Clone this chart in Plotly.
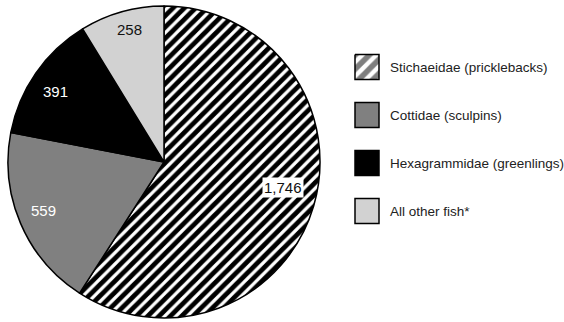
import math
import plotly.graph_objects as go

# Fish counts by family
families = [
    "Stichaeidae (pricklebacks)",
    "Cottidae (sculpins)",
    "Hexagrammidae (greenlings)",
    "All other fish*",
]
counts = [1746, 559, 391, 258]

FONT = "Liberation Sans, Arial, sans-serif"
W, H = 564, 322

# Pie geometry in pixels
CX, CY, R = 164, 162, 156

fills = ["white", "#808080", "#000000", "#d2d2d2"]
label_colors = ["#111111", "white", "white", "#111111"]

fig = go.Figure()

fig.add_trace(go.Pie(
    labels=families,
    values=counts,
    sort=False,
    direction="clockwise",
    rotation=0,
    textinfo="none",
    hoverinfo="label+value",
    showlegend=False,
    marker=dict(
        colors=fills,
        line=dict(color="black", width=1.5),
        pattern=dict(
            shape=["/", "", "", ""],
            fgcolor="black",
            bgcolor=fills,
            size=8,
            solidity=0.6,
        ),
    ),
    domain=dict(x=[(CX - R) / W, (CX + R) / W],
                y=[(H - CY - R) / H, (H - CY + R) / H]),
))

# Pixel-space overlay axes for the key swatches
fig.update_layout(
    xaxis=dict(range=[0, W], visible=False, fixedrange=True, domain=[0, 1]),
    yaxis=dict(range=[H, 0], visible=False, fixedrange=True, domain=[0, 1]),
)

row_y = [67, 115, 163, 211]
sx0, sx1, half = 355, 379, 12.5

for i, (name, col) in enumerate(zip(families, fills)):
    y0, y1 = row_y[i] - half, row_y[i] + half
    if i == 0:
        fig.add_trace(go.Scatter(
            x=[sx0, sx1, sx1, sx0, sx0],
            y=[y0, y0, y1, y1, y0],
            mode="lines",
            fill="toself",
            fillcolor="white",
            fillpattern=dict(shape="/", fgcolor="black", bgcolor="white",
                             size=10, solidity=0.55),
            line=dict(color="black", width=1.5),
            hoverinfo="skip",
            showlegend=False,
        ))
    else:
        fig.add_shape(type="rect", xref="x", yref="y",
                      x0=sx0, x1=sx1, y0=y0, y1=y1,
                      fillcolor=col, line=dict(color="black", width=1.5))
    fig.add_annotation(
        x=388, y=row_y[i], xref="x", yref="y",
        text=name, showarrow=False, xanchor="left", yanchor="middle",
        font=dict(family=FONT, size=13.5, color="#222222"),
    )

# Value labels placed along each slice's mid-angle
total = sum(counts)
radial = [0.78, 0.83, 0.83, 0.88]
shift = [-4.5, 1.3, -1.7, 1.3]
start = 0.0
for i, v in enumerate(counts):
    sweep = v / total * 360.0
    mid = math.radians(start + sweep / 2 + shift[i])
    start += sweep
    r = radial[i] * R
    px = CX + r * math.sin(mid)
    py = CY - r * math.cos(mid)
    fig.add_annotation(
        x=px, y=py, xref="x", yref="y",
        text=f"{v:,}", showarrow=False,
        xanchor="center", yanchor="middle",
        font=dict(family=FONT, size=15, color=label_colors[i]),
        bgcolor="white" if i == 0 else None,
        borderpad=1,
    )

fig.update_layout(
    width=W, height=H,
    margin=dict(l=0, r=0, t=0, b=0),
    paper_bgcolor="white",
    plot_bgcolor="rgba(0,0,0,0)",
)

fig.write_html("out.html")
